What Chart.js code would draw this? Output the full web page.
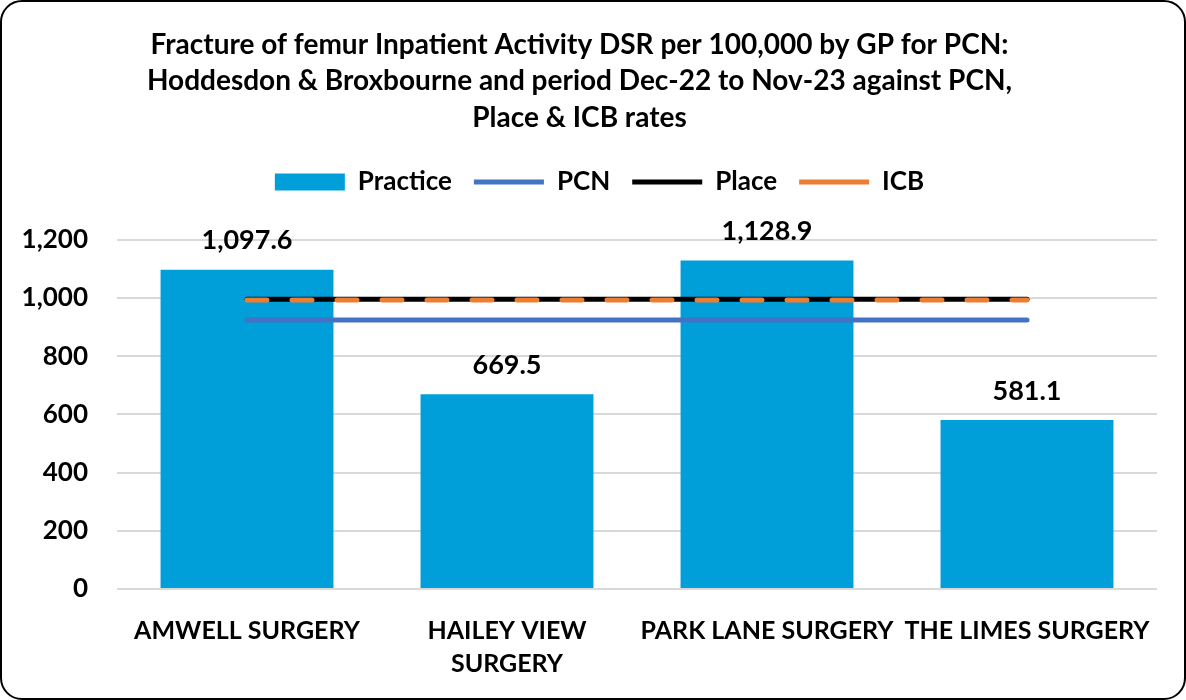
<!DOCTYPE html>
<html>
<head>
<meta charset="utf-8">
<script src="https://cdn.jsdelivr.net/npm/chart.js@4"></script>
<style>
  html, body { margin: 0; padding: 0; background: #ffffff; }
  #frame {
    width: 1182px; height: 696px;
    border: 2px solid #000; border-radius: 22px;
    overflow: hidden; background: #fff;
  }
</style>
</head>
<body>
<div id="frame"><canvas id="femurChart" width="1182" height="696"></canvas></div>
<script>
// data
var practices = ['AMWELL SURGERY', ['HAILEY VIEW', 'SURGERY'], 'PARK LANE SURGERY', 'THE LIMES SURGERY'];
var practiceRates = [1097.6, 669.5, 1128.9, 581.1];
var pcnRate = [925, 925, 925, 925];
var placeRate = [996, 996, 996, 996];
var icbRate = [993, 993, 993, 993];
var titleLines = [
    'Fracture of femur Inpatient Activity DSR per 100,000 by GP for PCN:',
    'Hoddesdon & Broxbourne and period Dec-22 to Nov-23 against PCN,',
    'Place & ICB rates'
];

var fontFamily = 'Lato, "Open Sans", sans-serif';
var textColour = '#000000';

// value labels above the bars
var barLabels = {
    id: 'barLabels',
    afterDatasetsDraw: function(chart) {
        var ctx = chart.ctx;
        var meta = chart.getDatasetMeta(0);
        ctx.save();
        ctx.font = 'bold 27px ' + fontFamily;
        ctx.fillStyle = textColour;
        ctx.textAlign = 'center';
        ctx.textBaseline = 'middle';
        meta.data.forEach(function(bar, i) {
            var v = practiceRates[i].toLocaleString('en-US', { minimumFractionDigits: 1, maximumFractionDigits: 1 });
            ctx.fillText(v, bar.x, bar.y - 29);
        });
        ctx.restore();
    }
};

// extra room under the legend, and nudge it right to sit under the title
var legendGap = {
    id: 'legendGap',
    beforeLayout: function(chart) {
        var lg = chart.legend;
        if (lg && !lg._gapPatched) {
            lg._gapPatched = true;
            var origFit = lg.fit;
            lg.fit = function() {
                origFit.apply(this, arguments);
                this.height += 35;
            };
        }
    },
    afterLayout: function(chart) {
        var lg = chart.legend;
        if (lg) {
            lg.left += 20;
            lg.right += 20;
        }
    }
};

var ctx = document.getElementById('femurChart').getContext('2d');
var femurChart = new Chart(ctx, {
    type: 'bar',
    data: {
        labels: practices,
        datasets: [{
            label: 'Practice',
            data: practiceRates,
            backgroundColor: '#009FDA',
            categoryPercentage: 1,
            barPercentage: 0.665,
            pointStyle: 'rect',
            order: 4
        }, {
            type: 'line',
            label: 'PCN',
            data: pcnRate,
            borderColor: '#4472C4',
            backgroundColor: '#4472C4',
            borderWidth: 5,
            borderCapStyle: 'round',
            pointRadius: 0,
            pointStyle: 'line',
            order: 3
        }, {
            type: 'line',
            label: 'Place',
            data: placeRate,
            borderColor: '#000000',
            backgroundColor: '#000000',
            borderWidth: 5,
            borderCapStyle: 'round',
            pointRadius: 0,
            pointStyle: 'line',
            order: 2
        }, {
            type: 'line',
            label: 'ICB',
            data: icbRate,
            borderColor: '#ED7D31',
            backgroundColor: '#ED7D31',
            borderWidth: 5,
            borderDash: [20, 25],
            borderCapStyle: 'round',
            pointRadius: 0,
            pointStyle: 'line',
            order: 1
        }]
    },
    options: {
        responsive: false,
        animation: false,
        layout: { padding: { left: 0, right: 27, top: 0, bottom: 0 } },
        scales: {
            x: {
                grid: { display: false, drawTicks: false },
                border: { display: false },
                ticks: {
                    color: textColour,
                    font: { family: fontFamily, size: 25, weight: 'bold', lineHeight: 1.32 },
                    maxRotation: 0,
                    autoSkip: false,
                    padding: 25
                },
                afterFit: function(scale) { scale.height = 109; }
            },
            y: {
                min: 0,
                max: 1200,
                border: { display: false },
                grid: { color: '#D9D9D9', lineWidth: 2, drawTicks: false },
                ticks: {
                    stepSize: 200,
                    color: textColour,
                    font: { family: fontFamily, size: 26, weight: 'bold' },
                    padding: 29
                },
                afterFit: function(scale) { scale.width = 115; }
            }
        },
        plugins: {
            title: {
                display: true,
                text: titleLines,
                color: textColour,
                font: { family: fontFamily, size: 28, weight: 'bold', lineHeight: 1.32 },
                padding: { top: 24, bottom: 10 }
            },
            legend: {
                display: true,
                position: 'top',
                reverse: true,
                labels: {
                    usePointStyle: true,
                    pointStyleWidth: 70,
                    boxHeight: 17,
                    padding: 22,
                    color: textColour,
                    font: { family: fontFamily, size: 26, weight: 'bold' }
                }
            },
            tooltip: { enabled: false }
        }
    },
    plugins: [barLabels, legendGap]
});
</script>
</body>
</html>
